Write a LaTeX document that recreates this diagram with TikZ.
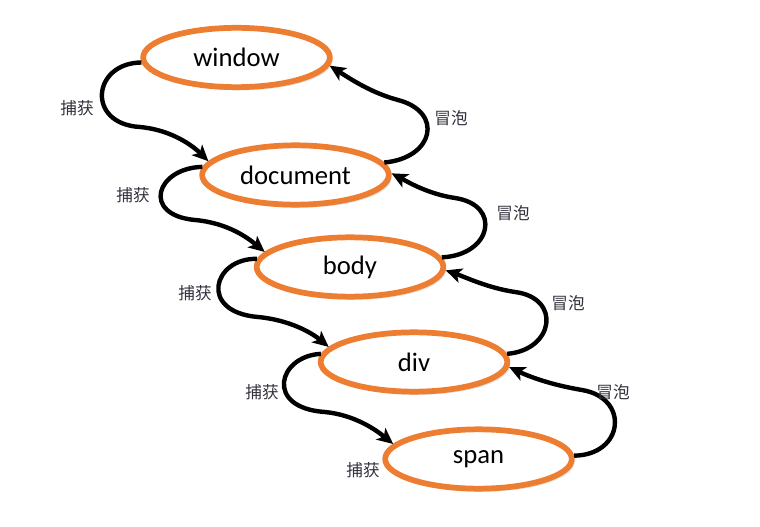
\documentclass[tikz,border=0pt]{standalone}
\usepackage{fontspec}
\setmainfont{Carlito}
\newfontfamily\cjk{Noto Sans CJK SC}
\usetikzlibrary{arrows.meta,shapes.geometric,shadows}
\definecolor{borange}{RGB}{237,125,49}
\definecolor{lbl}{RGB}{50,50,62}
\begin{document}
\begin{tikzpicture}[x=0.75pt,y=-0.75pt,
  evt/.style={ellipse, draw=borange, line width=4.3pt, fill=white,
    minimum width=140pt, minimum height=44.5pt, inner sep=0pt,
    font=\fontsize{20}{24}\selectfont,
    drop shadow={shadow xshift=2pt, shadow yshift=-2.4pt, opacity=0.22}},
  flow/.style={line width=3.3pt, -{Stealth[length=12pt,width=11pt,inset=3pt]}},
  lab/.style={font=\cjk\fontsize{12.5}{15}\selectfont, text=lbl, inner sep=1pt}]
\useasboundingbox (0,0) rectangle (760,527);

\node[evt] (w) at (236.5,57.5) {window};
\node[evt] (d) at (295.5,175) {document};
\node[evt] (b) at (350,267) {body};
\node[evt] (v) at (414,362) {div};
\node[evt] (s) at (478.5,459) {span};

% capture
\draw[flow] (w.183) .. controls (92,63) and (86,124) .. (140,127) .. controls (172,130) and (193,146) .. (d.171);
\draw[flow] (d.175) .. controls (156,168) and (141,215) .. (195,220) .. controls (228,223) and (248,238) .. (b.170);
\draw[flow] (b.175) .. controls (213,258) and (198,312) .. (258,317) .. controls (290,320) and (312,333) .. (v.170);
\draw[flow] (v.175) .. controls (278,356) and (264,408) .. (325,412) .. controls (355,415) and (376,430) .. (s.170);

% bubble
\draw[flow] (s.2) .. controls (624,455) and (630,398) .. (582,390) .. controls (552,385) and (530,377) .. (v.357);
\draw[flow] (v.5) .. controls (554,350) and (562,298) .. (515,292) .. controls (488,288) and (465,277) .. (b.358);
\draw[flow] (b.6) .. controls (492,255) and (502,205) .. (455,198) .. controls (428,194) and (408,182) .. (d.1);
\draw[flow] (d.8) .. controls (434,158) and (444,112) .. (398,100) .. controls (372,93) and (352,80) .. (w.355);

\node[lab] (c1) at (77,108) {捕获};
\node[lab] (c2) at (133,195) {捕获};
\node[lab] (c3) at (195,293) {捕获};
\node[lab] (c4) at (262,392) {捕获};
\node[lab] (c5) at (363,470) {捕获};
\node[lab] (p1) at (451,118) {冒泡};
\node[lab] (p2) at (513,213) {冒泡};
\node[lab] (p3) at (568,303) {冒泡};
\node[lab] (p4) at (613,392) {冒泡};
\end{tikzpicture}
\end{document}
